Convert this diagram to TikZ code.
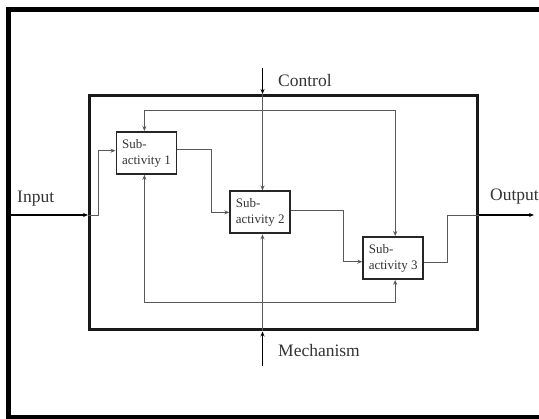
\documentclass[tikz,border=0pt]{standalone}
\usepackage{fontspec}
\setmainfont{Liberation Serif}
\usetikzlibrary{arrows.meta,calc}
\begin{document}
\begin{tikzpicture}[x=1pt,y=-1pt,
  sub/.style={draw=black!85, line width=1.8pt, minimum width=60pt, minimum height=42pt, inner sep=0pt, font=\fontsize{13}{16}\selectfont, text=black!80, align=left},
  mainbox/.style={draw=black!90, line width=3pt, minimum width=388pt, minimum height=234.5pt, inner sep=0pt},
  thinline/.style={draw=black!65, line width=0.9pt},
  extline/.style={draw=black, line width=1.5pt},
  tip/.style={-{Stealth[length=5pt,width=4pt]}},
  tips/.style={{Stealth[length=5pt,width=4pt]}-{Stealth[length=5pt,width=4pt]}},
  lbl/.style={font=\fontsize{17.5}{20}\selectfont, text=black!80, inner sep=0pt, anchor=base west}]
\useasboundingbox (0,0) rectangle (539,419);
\begin{scope}
  \clip (0,0) rectangle (539,419);
  \draw[line width=5pt] (8.5,9.5) rectangle (600,417.5);
  \node[lbl] (out) at (490,200.7) {Output};
\end{scope}
\node[mainbox] (main) at (283.5,212.75) {};
\node[sub] (s1) at (146.4,152.9) {Sub-\\activity 1};
\node[sub] (s2) at (260.2,212.4) {Sub-\\activity 2};
\node[sub] (s3) at (393.2,258) {Sub-\\activity 3};
\node[lbl] (inlbl) at (17,202.3) {Input};
\node[lbl] (ctl) at (278,86.7) {Control};
\node[lbl] (mec) at (278,356.7) {Mechanism};
\coordinate (inS) at (11,215);
\coordinate (outE) at (534,215);
\coordinate (ctlS) at (262.5,68);
\coordinate (mecS) at (262.5,366);
\coordinate (fbT) at (0,110);
\coordinate (fbB) at (0,302.3);
% input
\draw[extline,tip] (inS) -- (inS -| main.west);
\draw[thinline,tip] (inS -| main.west) -- ++(10,0) |- ($(s1.west)+(0,-2.2)$);
% sub1 -> sub2
\draw[thinline,tip] ($(s1.east)+(0,-3)$) -| ($(s2.west)+(-18,0)$) -- (s2.west);
% sub2 -> sub3
\draw[thinline,tip] ($(s2.east)+(0,-1.7)$) -| ($(s3.west)+(-18.5,3.7)$) -- ($(s3.west)+(0,3.7)$);
% output
\draw[thinline] ($(s3.east)+(0,4)$) -| ($(outE -| main.east)+(-31.5,0)$) -- (outE -| main.east);
\draw[extline,tip] (outE -| main.east) -- (outE);
% control
\draw[extline,tip] (ctlS) -- (ctlS |- main.north);
\draw[thinline,tip] (ctlS |- main.north) -- (ctlS |- s2.north);
% mechanism
\draw[extline,tip] (mecS) -- (mecS |- main.south);
\draw[thinline,tip] (mecS |- main.south) -- (mecS |- s2.south);
% feedback loops
\coordinate (a1) at ($(s1.north)+(-2,0)$);
\coordinate (a3) at ($(s3.north)+(2,0)$);
\coordinate (b1) at ($(s1.south)+(-2,0)$);
\coordinate (b3) at ($(s3.south)+(2,0)$);
\draw[thinline,tips] (a1) -- (a1 |- fbT) -| (a3);
\draw[thinline,tips] (b1) -- (b1 |- fbB) -| (b3);
\end{tikzpicture}
\end{document}
